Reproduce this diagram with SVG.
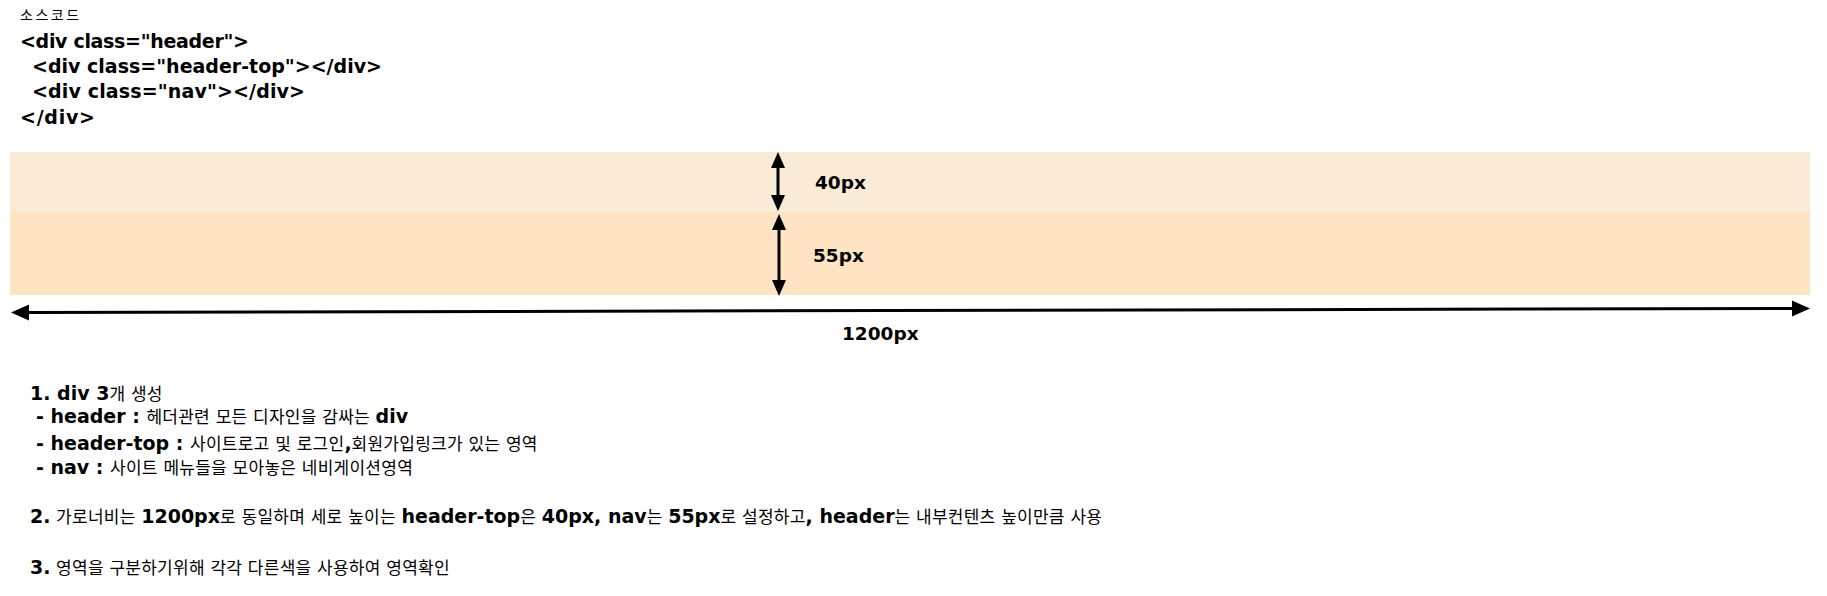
<svg xmlns="http://www.w3.org/2000/svg" width="1827" height="596" viewBox="0 0 1827 596">
<style>
text{font-family:'DejaVu Sans','Noto Sans CJK KR',sans-serif;fill:#000}
.code{font-size:19px;font-weight:bold}
.dim{font-size:18.5px;font-weight:bold}
.item{font-size:17px;letter-spacing:0.25px}
.b{font-size:19px;font-weight:bold;letter-spacing:0}
.cap{font-size:14px;letter-spacing:2.5px}
.arr{stroke:#000;stroke-width:3;fill:none}
</style>
<defs>
<marker id="ah" markerUnits="userSpaceOnUse" markerWidth="18" markerHeight="16" viewBox="0 -8 18 16" refX="0" refY="0" orient="auto-start-reverse" overflow="visible"><path d="M0,-8 L18,0 L0,8 z" fill="#000"/></marker>
<marker id="av" markerUnits="userSpaceOnUse" markerWidth="16" markerHeight="14" viewBox="0 -7 16 14" refX="0" refY="0" orient="auto-start-reverse" overflow="visible"><path d="M0,-7 L16,0 L0,7 z" fill="#000"/></marker>
</defs>
<g id="source">
<text class="cap" x="20" y="20">소스코드</text>
<text class="code" x="20" y="48" textLength="229" lengthAdjust="spacing">&lt;div class="header"&gt;</text>
<text class="code" x="32" y="73" textLength="350" lengthAdjust="spacing">&lt;div class="header-top"&gt;&lt;/div&gt;</text>
<text class="code" x="32" y="98" textLength="273" lengthAdjust="spacing">&lt;div class="nav"&gt;&lt;/div&gt;</text>
<text class="code" x="20" y="124" textLength="75" lengthAdjust="spacing">&lt;/div&gt;</text>
</g>
<g id="header-top"><rect x="10" y="152" width="1800" height="60" fill="#FAEBD7"/></g>
<g id="nav"><rect x="10" y="212" width="1800" height="83" fill="#FFE4C4"/></g>
<g id="connectors">
<line class="arr" x1="778" y1="168" x2="778" y2="195" marker-start="url(#av)" marker-end="url(#av)"/>
<line class="arr" x1="779" y1="230" x2="779" y2="280" marker-start="url(#av)" marker-end="url(#av)"/>
<line class="arr" x1="29" y1="312.5" x2="1792" y2="308.5" marker-start="url(#ah)" marker-end="url(#ah)"/>
</g>
<g id="labels">
<text class="dim" x="815" y="189">40px</text>
<text class="dim" x="813" y="262">55px</text>
<text class="dim" x="842" y="340">1200px</text>
</g>
<g id="notes">
<text class="item" x="30" y="400"><tspan class="b">1. div 3</tspan>개 생성</text>
<text class="item" x="36" y="423"><tspan class="b">- header : </tspan>헤더관련 모든 디자인을 감싸는 <tspan class="b">div</tspan></text>
<text class="item" x="36" y="450"><tspan class="b">- header-top : </tspan>사이트로고 및 로그인<tspan class="b">,</tspan>회원가입링크가 있는 영역</text>
<text class="item" x="36" y="474"><tspan class="b">- nav : </tspan>사이트 메뉴들을 모아놓은 네비게이션영역</text>
<text class="item" x="30" y="523"><tspan class="b">2.</tspan> 가로너비는 <tspan class="b">1200px</tspan>로 동일하며 세로 높이는 <tspan class="b">header-top</tspan>은 <tspan class="b">40px, nav</tspan>는 <tspan class="b">55px</tspan>로 설정하고<tspan class="b">, header</tspan>는 내부컨텐츠 높이만큼 사용</text>
<text class="item" x="30" y="574"><tspan class="b">3.</tspan> 영역을 구분하기위해 각각 다른색을 사용하여 영역확인</text>
</g>
</svg>
